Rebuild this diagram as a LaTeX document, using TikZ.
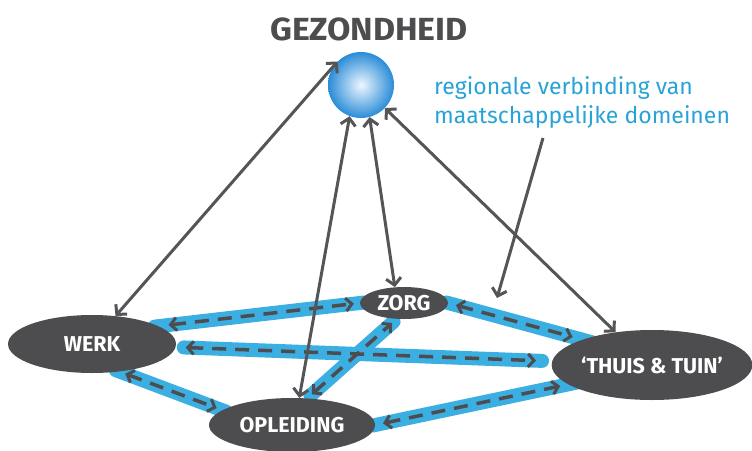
\documentclass[tikz,border=0pt]{standalone}
\usepackage{fontspec}
\setmainfont{Fira Sans}
\newfontfamily\titelfont[FakeStretch=1.06]{Fira Sans}
\usetikzlibrary{shapes.geometric,arrows.meta,backgrounds}
\definecolor{donker}{RGB}{77,77,79}
\definecolor{pijlgrijs}{RGB}{85,85,87}
\definecolor{bandblauw}{RGB}{59,175,226}
\definecolor{tekstblauw}{RGB}{41,163,214}
\definecolor{bolrand}{RGB}{42,140,215}
\begin{document}
\begin{tikzpicture}[x=1pt,y=-1pt]
    \useasboundingbox (0,0) rectangle (752,450);
    \tikzstyle{titel}=[text=donker, font=\titelfont\bfseries\fontsize{32}{36}\selectfont, inner sep=0pt]
    \tikzstyle{bol}=[circle, minimum size=66pt, inner sep=0pt, inner color={rgb,255:red,238;green,247;blue,255}, outer color=bolrand]
    \tikzstyle{domein}=[ellipse, fill=donker, text=white, font=\bfseries\fontsize{21.5}{24}\selectfont, inner sep=0pt]
    \tikzstyle{uitleg}=[align=left, anchor=north west, inner sep=0pt, text=tekstblauw, font=\fontsize{23}{29}\selectfont]
    \node[titel] (N00) at (369,29) {GEZONDHEID};
    \node[bol] (N01) at (361,85) {};
    \node[domein, minimum width=168pt, minimum height=58pt] (N02) at (92,344) {WERK};
    \node[domein, minimum width=166pt, minimum height=54pt] (N03) at (292,425) {OPLEIDING};
    \node[domein, minimum width=88pt, minimum height=32pt] (N04) at (404,303) {ZORG};
    \node[domein, minimum width=200pt, minimum height=70pt] (N05) at (652,365) {‘THUIS \& TUIN’};
    \node[uitleg] (N06) at (434,76) {regionale verbinding van\\maatschappelijke domeinen};
    \coordinate (P01) at (543,138);
    \coordinate (P02) at (497,298);

    \tikzstyle{band}=[bandblauw, line width=14pt, line cap=round]
    \tikzstyle{link}=[donker, line width=3.5pt, dash pattern=on 14pt off 9pt, {Straight Barb[length=6pt,width=13pt,line width=3pt]}-{Straight Barb[length=6pt,width=13pt,line width=3pt]}]
    \begin{scope}[on background layer]
    \draw[band, shorten <=-4pt, shorten >=-4pt] (N02.15) -- (N04.west);
    \draw[band, shorten <=8pt, shorten >=10pt] (N02) -- (N05);
    \draw[band, shorten <=-4pt, shorten >=-4pt] (N02.-45) -- (N03.168);
    \draw[band, shorten <=4pt, shorten >=4pt] (N03.60) -- (N04.-115);
    \draw[band, shorten <=-3pt, shorten >=-15pt] (N03.east) -- (N05.193);
    \draw[band, shorten <=-2pt, shorten >=-10pt] (N04.east) -- (N05.160);
    \end{scope}
    \draw[link, shorten <=10pt, shorten >=6pt] (N02.15) -- (N04.west);
    \draw[link, shorten <=10pt, shorten >=16pt] (N02) -- (N05);
    \draw[link, shorten <=6pt, shorten >=6pt] (N02.-45) -- (N03.168);
    \draw[link, shorten <=6pt, shorten >=6pt] (N03.60) -- (N04.-115);
    \draw[link, shorten <=8pt, shorten >=8pt] (N03.east) -- (N05.193);
    \draw[link, shorten <=8pt, shorten >=10pt] (N04.east) -- (N05.160);

    \tikzstyle{pijl}=[pijlgrijs, line width=3pt, {Straight Barb[length=7pt,width=15pt]}-{Straight Barb[length=7pt,width=15pt]}]
    \draw[pijl] (N01.135) -- (N02.50);
    \draw[pijl] (N01.250) -- (N03.75);
    \draw[pijl] (N01.285) -- (N04.120);
    \draw[pijl] (N01.316) -- (N05.138);
    \draw[pijl, -{Straight Barb[length=7pt,width=15pt]}] (P01) -- (P02);
\end{tikzpicture}
\end{document}
